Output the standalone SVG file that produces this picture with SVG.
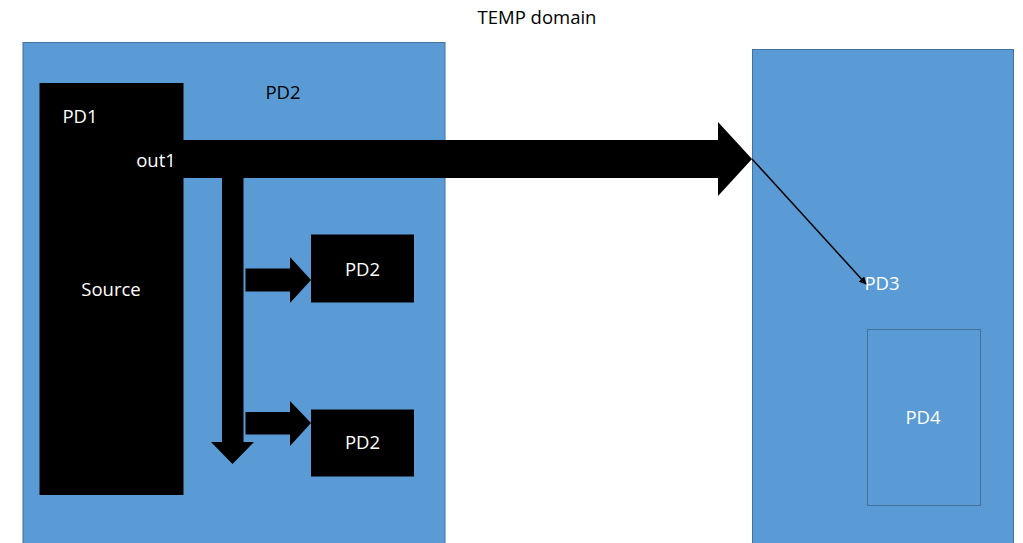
<svg xmlns="http://www.w3.org/2000/svg" width="1023" height="543" viewBox="0 0 1023 543">
  <defs>
    <style>
      .domain { fill: #5b9bd5; stroke: #41719c; stroke-width: 1; }
      .blk { fill: #000000; }
      .t { font-family: "Open Sans", "Liberation Sans", sans-serif; font-size: 18.5px; }
      .w { fill: #ffffff; }
      .k { fill: #000000; }
    </style>
    <marker id="tip" viewBox="0 0 10 10" refX="9" refY="5" markerWidth="5" markerHeight="5" orient="auto">
      <path d="M0,0 L10,5 L0,10 z" fill="#000000"/>
    </marker>
  </defs>
  <rect width="1023" height="543" fill="#ffffff"/>

  <text class="t k" x="537" y="24" text-anchor="middle">TEMP domain</text>

  <g id="pd2-domain">
    <rect class="domain" x="23" y="42.5" width="422" height="510"/>
    <text class="t k" x="283" y="99" text-anchor="middle">PD2</text>
  </g>

  <g id="pd3-domain">
    <rect class="domain" x="752.5" y="49.5" width="261" height="510"/>
    <text class="t w" x="882" y="290" text-anchor="middle">PD3</text>
  </g>

  <g id="pd4">
    <rect class="domain" x="867.5" y="329.5" width="113" height="176"/>
    <text class="t w" x="923" y="424" text-anchor="middle">PD4</text>
  </g>

  <g id="source">
    <rect class="blk" x="39.5" y="83" width="144" height="412"/>
    <text class="t w" x="80" y="123" text-anchor="middle">PD1</text>
    <text class="t w" x="156" y="167" text-anchor="middle">out1</text>
    <text class="t w" x="111" y="296" text-anchor="middle">Source</text>
  </g>

  <g id="pd2-a">
    <rect class="blk" x="311" y="234.5" width="103" height="68"/>
    <text class="t w" x="362.5" y="276" text-anchor="middle">PD2</text>
  </g>

  <g id="pd2-b">
    <rect class="blk" x="311" y="409.5" width="103" height="67"/>
    <text class="t w" x="362.5" y="449" text-anchor="middle">PD2</text>
  </g>

  <g id="connectors">
    <!-- wide output arrow towards the PD3 domain -->
    <polygon class="blk" points="183,140 718,140 718,122 752,159 718,196 718,178 183,178"/>
    <!-- vertical branch -->
    <polygon class="blk" points="222,178 243.5,178 243.5,442 254,442 232.5,464 211,442 222,442"/>
    <!-- branch arrows into the PD2 boxes -->
    <polygon class="blk" points="245.5,268.5 290,268.5 290,257 311,280 290,303 290,291.5 245.5,291.5"/>
    <polygon class="blk" points="245.5,412 290,412 290,401 311,423 290,446 290,434.5 245.5,434.5"/>
    <!-- thin link to PD3 -->
    <line x1="752" y1="159" x2="866" y2="284" stroke="#000000" stroke-width="1.5" marker-end="url(#tip)"/>
  </g>
</svg>
